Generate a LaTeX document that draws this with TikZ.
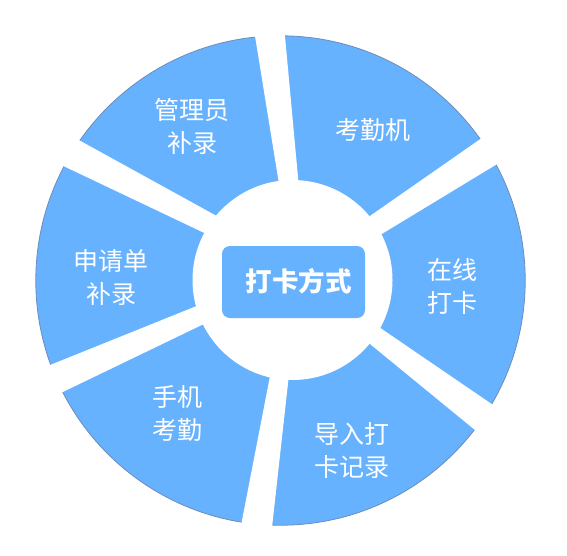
\documentclass[tikz,border=0pt]{standalone}
\usepackage{fontspec}
\newfontfamily\cjk{Noto Sans CJK SC}
\definecolor{fillblue}{RGB}{102,178,255}
\definecolor{edgeblue}{RGB}{110,140,185}
\begin{document}
\begin{tikzpicture}[x=1pt,y=-1pt,
  lbl/.style={text=white,font=\cjk\fontsize{25}{33}\selectfont,align=center,inner sep=0pt},
  gapfill/.style={fill=white,draw=none}]
\useasboundingbox (0,0) rectangle (567,555);
% outer disk
\fill[fillblue,draw=edgeblue,line width=0.8pt] (280.5,280.5) circle[radius=244.7pt];
% gaps
\fill[gapfill] (252.4,20) -- (281.6,200) -- (300.1,200) -- (283.5,20) -- cycle;
\fill[gapfill] (273.1,360) -- (238.2,540) -- (270.6,540) -- (290.6,360) -- cycle;
\fill[gapfill] (350,229.9) -- (520,111.4) -- (530,144.1) -- (360,247.2) -- cycle;
\fill[gapfill] (360,314.1) -- (530,430.2) -- (510,458.7) -- (350,327.6) -- cycle;
\fill[gapfill] (215,298.6) -- (20,377.1) -- (30,407.8) -- (225,313.8) -- cycle;
\fill[gapfill] (50,124.2) -- (230,223.3) -- (225,242.8) -- (40,154.9) -- cycle;
% inner white disk
\fill[white] (292.5,280) circle[radius=100pt];
% center box
\node[fill=fillblue,draw=none,rounded corners=8pt,minimum width=143pt,minimum height=72pt,inner sep=0pt] (core) at (293.5,282) {};
\node[lbl,font=\cjk\bfseries\fontsize{26.5}{33}\selectfont] (coretext) at (298.5,281) {打卡方式};
% labels
\node[lbl] (s1) at (192,126) {管理员\\补录};
\node[lbl] (s2) at (373,130) {考勤机};
\node[lbl] (s3) at (452,286) {在线\\打卡};
\node[lbl] (s4) at (352,451) {导入打\\卡记录};
\node[lbl] (s5) at (177,414) {手机\\考勤};
\node[lbl] (s6) at (111,278) {申请单\\补录};
\end{tikzpicture}
\end{document}
